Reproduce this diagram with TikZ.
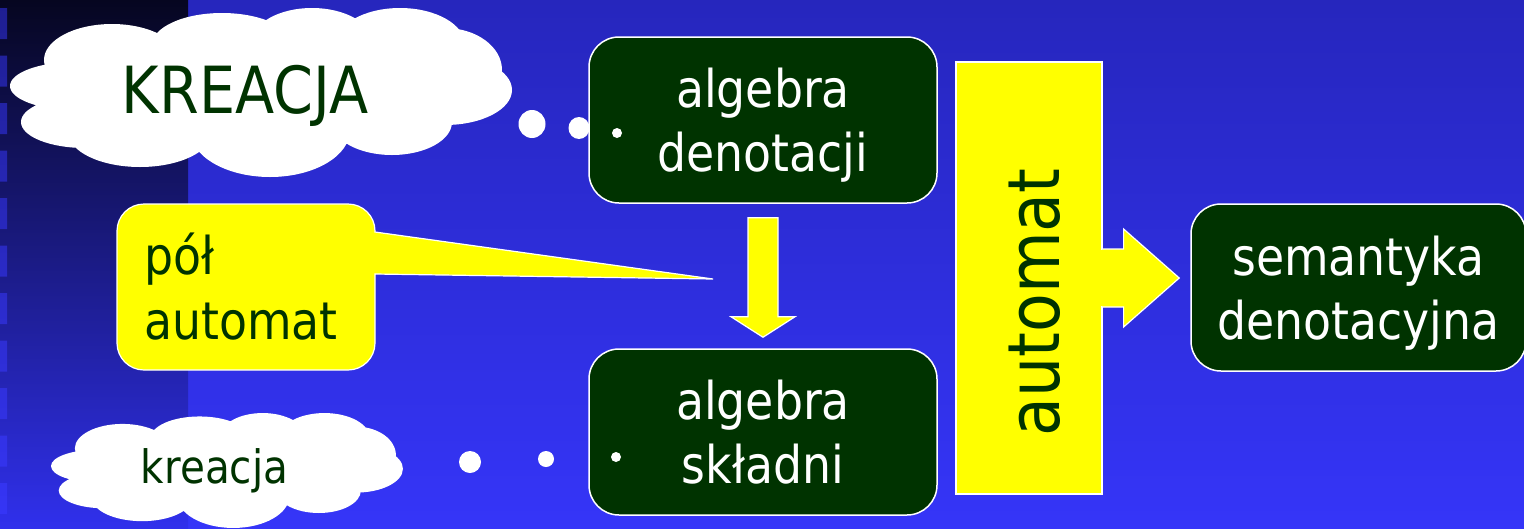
\documentclass[tikz,border=0pt]{standalone}
\usepackage{fontspec}
\setmainfont{DejaVu Sans}[FakeStretch=0.88]
\usetikzlibrary{calc}
\definecolor{bgTop}{HTML}{2626BD}
\definecolor{bgBot}{HTML}{3535F8}
\definecolor{stTop}{HTML}{060620}
\definecolor{stBot}{HTML}{3030EC}
\definecolor{sqTop}{HTML}{1E1E90}
\definecolor{sqBot}{HTML}{3636F8}
\definecolor{dkgreen}{HTML}{003300}
\definecolor{yel}{HTML}{FFFF00}
\newcommand\mycloudpuffs{%
  \fill[white]
    (75,86) ellipse[x radius=65,y radius=24]
    (85,122) ellipse[x radius=64,y radius=26]
    (140,132) ellipse[x radius=72,y radius=35]
    (270,130) ellipse[x radius=80,y radius=47]
    (392,122) ellipse[x radius=60,y radius=33]
    (445,90) ellipse[x radius=67,y radius=35]
    (445,70) ellipse[x radius=57,y radius=42]
    (400,45) ellipse[x radius=65,y radius=37]
    (312,42) ellipse[x radius=60,y radius=34]
    (222,45) ellipse[x radius=70,y radius=32]
    (112,60) ellipse[x radius=68,y radius=36]
    (260,95) ellipse[x radius=190,y radius=55];}
\tikzset{
  gbox/.style={draw=white, line width=1.5pt, fill=dkgreen, rounded corners=30pt,
    text=white, align=center, font=\fontsize{52}{64}\selectfont, inner sep=0pt},
  yarrow/.style={fill=yel, draw=white, line width=1.2pt, line join=miter},
  gtext/.style={text=dkgreen, inner sep=0pt},
  dot/.style={fill=white}
}
\begin{document}
\begin{tikzpicture}[x=1pt,y=-1pt]
\useasboundingbox (0,0) rectangle (1524,528);
% background
\shade[top color=bgTop, bottom color=bgBot] (188,0) rectangle (1524,528);
\shade[top color=stTop, bottom color=stBot] (0,0) rectangle (188,528);
\begin{scope}
  \clip (0,8) rectangle (7,39) (0,55.5) rectangle (7,86.5) (0,103) rectangle (7,134)
        (0,150.5) rectangle (7,181.5) (0,198) rectangle (7,229) (0,245.5) rectangle (7,276.5)
        (0,293) rectangle (7,324) (0,340.5) rectangle (7,371.5) (0,388) rectangle (7,419)
        (0,435.5) rectangle (7,466.5) (0,483) rectangle (7,514);
  \shade[top color=sqTop, bottom color=sqBot] (0,0) rectangle (7,528);
\end{scope}
% clouds
\mycloudpuffs
\begin{scope}[shift={(44,407.6)}, xscale=0.701, yscale=0.680]
  \mycloudpuffs
\end{scope}
% thought dots
\fill[dot] (532,124) ellipse[x radius=13.5,y radius=14];
\fill[dot] (579,128) ellipse[x radius=10.5,y radius=11];
\fill[dot] (470,462) ellipse[x radius=11,y radius=11];
\fill[dot] (546,459) ellipse[x radius=8,y radius=8];
% callout
\coordinate (tip) at (713,279);
\draw[fill=yel, draw=white, line width=1.2pt]
  (144,204) -- (348,204) arc[start angle=-90,end angle=0,radius=27]
  -- (375,232) -- (tip) -- (375,274) -- (375,343) arc[start angle=0,end angle=90,radius=27]
  -- (144,370) arc[start angle=90,end angle=180,radius=27]
  -- (117,231) arc[start angle=180,end angle=270,radius=27] -- cycle;
\node[gtext, anchor=west, align=left, font=\fontsize{52}{65}\selectfont] (pa) at (144,287) {pół\\automat};
% boxes
\node[gbox, minimum width=348pt, minimum height=166pt] (den) at (763,120) {algebra\\\smash{denotacji}};
\node[gbox, minimum width=348pt, minimum height=166pt] (skl) at (763,432) {algebra\\składni};
\node[gbox, minimum width=335pt, minimum height=167pt] (sem) at (1358.5,287.5) {semantyka\\\smash{denotacyjna}};
\fill[dot] (617,133) circle[radius=5];
\fill[dot] (616,457) circle[radius=5];
% automat bar
\node[draw=white, line width=1.2pt, fill=yel, minimum width=146pt, minimum height=432pt, inner sep=0pt] (auto) at (1029,278) {};
\node[gtext, rotate=90, anchor=base, font=\fontsize{72}{80}\selectfont] (autoT) at (1059,302.5) {automat};
% arrows
\draw[yarrow] ($(den.south)+(-15,14)$) -- ($(den.south)+(15,14)$) -- ($(den.south)+(15,113)$)
  -- ($(den.south)+(32,113)$) -- ($(skl.north)+(0,-11)$) -- ($(den.south)+(-32,113)$)
  -- ($(den.south)+(-15,113)$) -- cycle;
\fill[yel] ($(auto.east)+(-2,-28)$) rectangle ($(auto.east)+(2,28)$);
\draw[yarrow] ($(auto.east)+(0,-29)$) -- ($(auto.east)+(21,-29)$) -- ($(auto.east)+(21,-49)$)
  -- ($(auto.east -| sem.west)+(-11,0)$) -- ($(auto.east)+(21,49)$) -- ($(auto.east)+(21,29)$)
  -- ($(auto.east)+(0,29)$);
% cloud texts
\node[gtext, anchor=base, font=\fontsize{65}{78}\selectfont] (kreU) at (245,113) {KREACJA};
\node[gtext, anchor=base, font=\fontsize{46}{55}\selectfont] (kreL) at (214.5,483) {kreacja};
\end{tikzpicture}
\end{document}
